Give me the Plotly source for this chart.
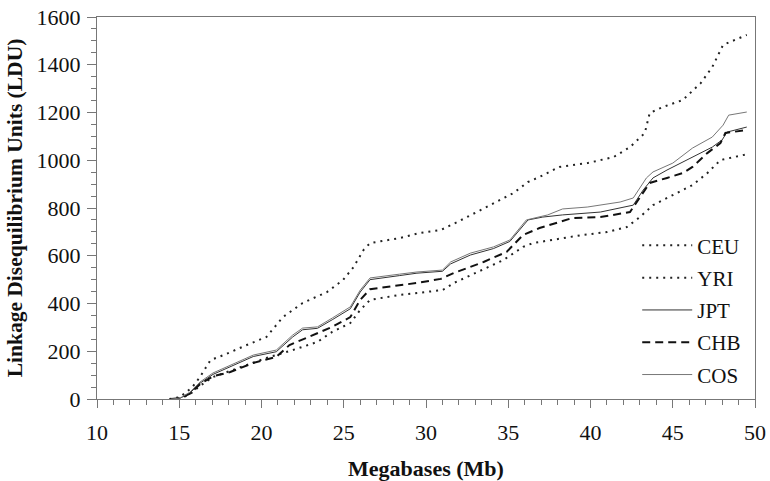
import plotly.graph_objects as go

ceu_x = [14.4, 15.05, 15.8, 16.26, 16.9, 17.7, 19.1, 20.3, 21.3, 22.5, 23.98, 24.95, 25.6, 26.2, 26.6, 28.4, 29.6, 30.9, 31.9, 33.3, 34.5, 35.3, 36.2, 36.9, 38.1, 39.8, 41.4, 42.4, 43.3, 43.6, 44.4, 45.6, 46.7, 47.4, 48.06, 49.0, 49.5]
ceu_y = [0, 8, 50, 92, 163, 184, 226, 260, 343, 402, 448, 498, 553, 624, 653, 674, 695, 708, 741, 792, 833, 862, 909, 930, 972, 988, 1013, 1055, 1114, 1198, 1223, 1252, 1323, 1390, 1483, 1510, 1525]

cos_x = [14.5, 15.05, 15.65, 16.26, 17.05, 18.1, 19.5, 20.9, 21.9, 22.5, 23.4, 24.3, 25.4, 26.0, 26.6, 28.4, 29.45, 31.0, 31.5, 32.7, 34.1, 35.1, 36.1, 37.4, 38.3, 39.8, 41.8, 42.6, 43.0, 43.4, 43.8, 45.0, 46.2, 47.4, 48.06, 48.4, 49.5]
cos_y = [0, 4, 29, 71, 109, 142, 184, 205, 268, 297, 302, 339, 386, 456, 507, 523, 532, 540, 574, 611, 637, 666, 750, 771, 796, 804, 825, 842, 884, 926, 951, 988, 1051, 1097, 1147, 1189, 1202]

jpt_x = [14.5, 15.05, 15.65, 16.26, 17.05, 18.1, 19.5, 20.9, 21.9, 22.5, 23.4, 24.3, 25.4, 26.0, 26.6, 28.4, 29.45, 31.0, 31.5, 32.7, 34.1, 35.1, 36.2, 37.1, 38.3, 40.6, 42.6, 43.2, 43.8, 44.65, 46.2, 46.7, 47.4, 48.0, 48.3, 49.5]
jpt_y = [0, 3, 25, 66, 103, 136, 178, 198, 260, 290, 296, 332, 378, 448, 500, 517, 527, 535, 566, 603, 630, 660, 750, 762, 771, 783, 812, 875, 926, 959, 1013, 1030, 1055, 1085, 1118, 1139]

chb_x = [14.5, 15.05, 15.65, 16.26, 17.05, 18.1, 19.5, 20.9, 21.7, 22.9, 24.3, 25.4, 26.0, 26.6, 28.4, 29.45, 30.9, 31.7, 33.5, 34.9, 35.9, 36.9, 38.9, 40.6, 42.4, 43.0, 43.6, 44.65, 45.6, 46.2, 47.1, 47.9, 48.2, 49.5]
chb_y = [0, 3, 22, 62, 95, 113, 151, 176, 226, 260, 302, 343, 415, 460, 477, 486, 503, 528, 574, 616, 687, 716, 758, 762, 783, 842, 905, 926, 946, 972, 1030, 1072, 1114, 1127]

yri_x = [14.5, 15.05, 15.65, 16.26, 17.05, 18.7, 20.3, 21.9, 23.4, 24.3, 25.4, 26.0, 26.6, 28.4, 29.45, 31.0, 31.7, 33.1, 34.7, 35.9, 36.5, 39.5, 41.0, 42.2, 43.0, 43.8, 45.0, 46.2, 47.1, 47.9, 49.5]
yri_y = [0, 2, 20, 55, 92, 134, 172, 205, 239, 281, 318, 373, 415, 436, 444, 456, 486, 532, 582, 637, 653, 687, 699, 720, 762, 812, 854, 896, 946, 1001, 1025]

x_ticks = [10, 15, 20, 25, 30, 35, 40, 45, 50]
y_ticks = [0, 200, 400, 600, 800, 1000, 1200, 1400, 1600]

series = [
    ("CEU", ceu_x, ceu_y, dict(color="#222", width=2, dash="2px,5px")),
    ("YRI", yri_x, yri_y, dict(color="#222", width=2, dash="2px,5px")),
    ("JPT", jpt_x, jpt_y, dict(color="#333", width=1)),
    ("CHB", chb_x, chb_y, dict(color="#111", width=2, dash="8px,5px")),
    ("COS", cos_x, cos_y, dict(color="#777", width=1)),
]

fig = go.Figure()
for name, xs, ys, ln in series:
    fig.add_trace(go.Scatter(x=xs, y=ys, mode="lines", name=name, line=ln,
                             legendgroup=name))

SERIF = "'Liberation Serif', 'Times New Roman', Times, serif"
fig.update_layout(
    width=770, height=481,
    margin=dict(l=97, r=15, t=17, b=82, autoexpand=False),
    plot_bgcolor="white", paper_bgcolor="white",
    font=dict(family=SERIF, size=22, color="#111"),
    showlegend=True,
    legend=dict(x=0.821, y=0.455, xanchor="left", yanchor="top",
                bgcolor="rgba(0,0,0,0)", font=dict(size=21, family=SERIF, color="#111"),
                tracegroupgap=2, traceorder="grouped", itemwidth=50),
)
fig.update_xaxes(
    range=[10, 50], tickvals=x_ticks, ticktext=[str(v) for v in x_ticks],
    showgrid=False, zeroline=False, showline=True, linecolor="#777", linewidth=1,
    mirror=True, ticks="outside", ticklen=8, tickcolor="#777", automargin=False,
    minor=dict(dtick=1, ticks="outside", ticklen=5, tickcolor="#777"),
    tickfont=dict(size=22, family=SERIF, color="#111"), ticklabelstandoff=6,
    ticklabeloverflow="allow",
    title=dict(text="<b>Megabases (Mb)</b>", font=dict(size=22, family=SERIF), standoff=22),
)
fig.update_yaxes(
    range=[0, 1600], tickvals=y_ticks, ticktext=[str(v) for v in y_ticks],
    showgrid=False, zeroline=False, showline=True, linecolor="#777", linewidth=1,
    mirror=True, ticks="outside", ticklen=9, tickcolor="#777", automargin=False,
    minor=dict(dtick=50, ticks="outside", ticklen=5, tickcolor="#777"),
    tickfont=dict(size=22, family=SERIF, color="#111"), ticklabelstandoff=2,
    ticklabeloverflow="allow",
    title=dict(text="<b>Linkage Disequilibrium Units (LDU)</b>", font=dict(size=21.5, family=SERIF), standoff=8),
)

fig.write_html("out.html", config={"displayModeBar": False},
               post_script="document.body.style.margin='0';document.body.style.padding='0';")
